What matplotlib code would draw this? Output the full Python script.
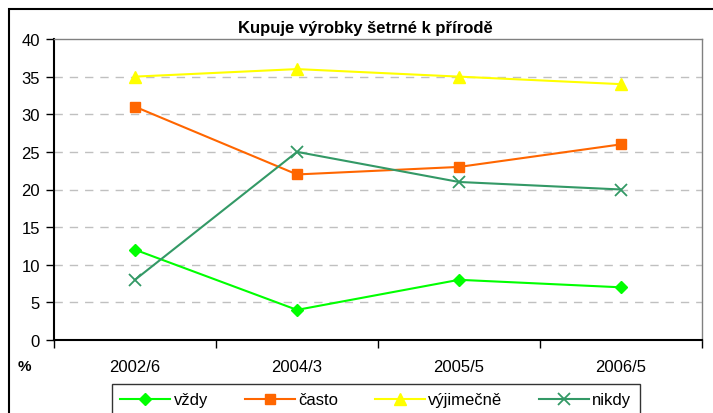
import matplotlib
matplotlib.use("Agg")
import matplotlib.pyplot as plt
from matplotlib.patches import Rectangle

categories = ["2002/6", "2004/3", "2005/5", "2006/5"]
vzdy = [12, 4, 8, 7]
casto = [31, 22, 23, 26]
vyjimecne = [35, 36, 35, 34]
nikdy = [8, 25, 21, 20]
series_names = ["vždy", "často", "výjimečně", "nikdy"]
title = "Kupuje výrobky šetrné k přírodě"
yticks = [0, 5, 10, 15, 20, 25, 30, 35, 40]

plt.rcParams['font.family'] = ['Liberation Sans', 'DejaVu Sans']

W, H = 713, 414
fig = plt.figure(figsize=(W / 100, H / 100), dpi=100)
ax = fig.add_axes([54 / W, 1 - 341 / H, (702 - 54) / W, (341 - 40) / H])

# outer chart border
fig.patches.append(Rectangle((9 / W, -0.1), 1.2, 1 - 10 / H + 0.1, transform=fig.transFigure,
                             fill=False, edgecolor='black', linewidth=1.5, zorder=0))

xs = [i + 0.5 for i in range(len(categories))]
ax.plot(xs, vzdy, color='#00FF00', marker='D', markersize=6.5, lw=1.5, label=series_names[0], clip_on=False)
ax.plot(xs, casto, color='#FF6600', marker='s', markersize=6.5, lw=1.5, label=series_names[1], clip_on=False)
ax.plot(xs, vyjimecne, color='#FFFF00', marker='^', markersize=8.5, lw=1.5, label=series_names[2], clip_on=False)
ax.plot(xs, nikdy, color='#339966', marker='x', markersize=8, mew=1.3, lw=1.5, label=series_names[3], clip_on=False)

ax.set_xlim(0, 4)
ax.set_ylim(0, 40)
ax.set_yticks(yticks)
ax.set_yticklabels([str(v) for v in yticks], fontsize=12)
ax.set_xticks(xs)
ax.set_xticklabels(categories, fontsize=12)
ax.set_xticks([0, 1, 2, 3, 4], minor=True)
ax.tick_params(axis='x', which='major', length=0, pad=14)
ax.tick_params(axis='x', which='minor', length=6, width=1, color='black', direction='out')
ax.tick_params(axis='y', length=6, width=1, color='black', direction='out', pad=4)

for v in yticks[1:-1]:
    ax.axhline(v, color='#C0C0C0', lw=1, ls=(0, (6, 5)), zorder=0)

for s in ['top', 'right']:
    ax.spines[s].set_color('#808080')
    ax.spines[s].set_linewidth(1)
for s in ['left', 'bottom']:
    ax.spines[s].set_color('black')
    ax.spines[s].set_linewidth(1.5)

fig.text(365 / W, 1 - 28 / H, title, fontsize=12, fontweight='bold', ha='center', va='center')
fig.text(24 / W, 1 - 367 / H, "%", fontsize=11, fontweight='bold', ha='center', va='center')

leg = fig.legend(loc='upper left', bbox_to_anchor=(112 / W, 1 - 385 / H), ncol=4, fontsize=12,
                 frameon=True, fancybox=False, edgecolor='black', handlelength=3.0,
                 columnspacing=2.2, borderpad=0.5, handletextpad=0.2, borderaxespad=0)
leg.get_frame().set_linewidth(1)

fig.savefig("out.png", dpi=100)
